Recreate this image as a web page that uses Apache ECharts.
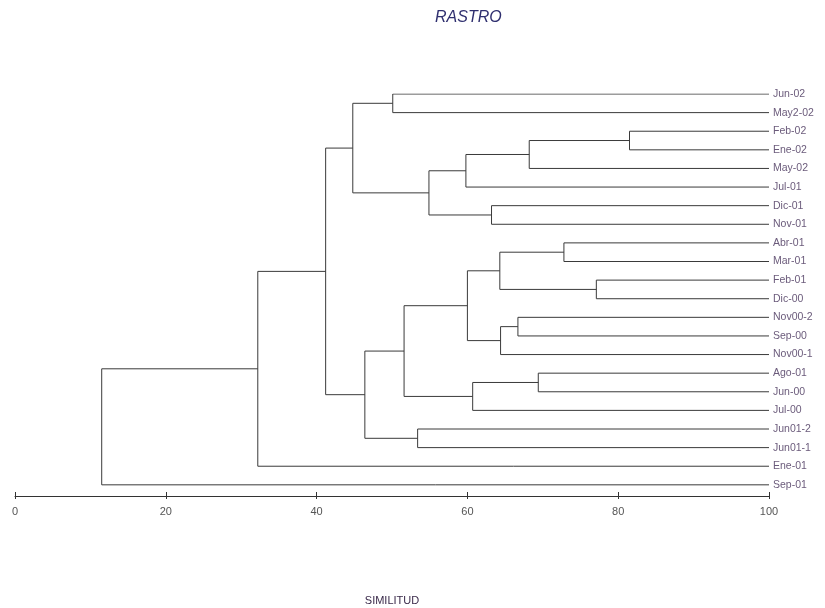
<!DOCTYPE html>
<html>
<head>
<meta charset="utf-8">
<script src="https://cdn.jsdelivr.net/npm/echarts@6/dist/echarts.min.js"></script>
<style>html,body{margin:0;padding:0;background:#fff}#c{width:825px;height:608px}</style>
</head>
<body>
<div id="c"></div>
<script>
// Leaves (top to bottom)
const leaves = ['Jun-02','May2-02','Feb-02','Ene-02','May-02','Jul-01','Dic-01','Nov-01',
  'Abr-01','Mar-01','Feb-01','Dic-00','Nov00-2','Sep-00','Nov00-1','Ago-01','Jun-00','Jul-00',
  'Jun01-2','Jun01-1','Ene-01','Sep-01'];
// Merges: [childA, childB, similitud]; new node ids start at leaves.length
const mergeA = [0, 2, 23, 24, 6, 25, 22, 8, 10, 29, 12, 32, 31, 15, 35, 34, 18, 37, 28, 40, 41];
const mergeB = [1, 3, 4, 5, 7, 26, 27, 9, 11, 30, 13, 14, 33, 16, 17, 36, 19, 38, 39, 20, 21];
const mergeSim = [50.1, 81.5, 68.2, 59.8, 63.2, 54.9, 44.8, 72.8, 77.1, 64.3, 66.7, 64.4, 60.0, 69.4, 60.7, 51.6, 53.4, 46.4, 41.2, 32.2, 11.5];
const xTicks = [0, 20, 40, 60, 80, 100];

const nodeX = leaves.map(() => 100);
const nodeY = leaves.map((_, i) => i);
const links = [];
for (let k = 0; k < mergeA.length; k++) {
  const a = mergeA[k], b = mergeB[k], s = mergeSim[k];
  links.push({coords: [[nodeX[a], nodeY[a]], [s, nodeY[a]], [s, nodeY[b]], [nodeX[b], nodeY[b]]]});
  nodeX.push(s);
  nodeY.push((nodeY[a] + nodeY[b]) / 2);
}

const GRID_TOP = 94, GRID_BOTTOM = 112, H = 608;

const chart = echarts.init(document.getElementById('c'), null, {renderer: 'canvas'});
const font = 'Arial, "Liberation Sans", sans-serif';
chart.setOption({
  animation: false,
  backgroundColor: '#fff',
  title: {
    text: 'RASTRO', left: 430, top: 5,
    textStyle: {fontSize: 16, fontStyle: 'italic', fontWeight: 'normal', color: '#2f2f6f', fontFamily: font}
  },
  grid: {left: 15, right: 56, top: GRID_TOP, bottom: GRID_BOTTOM, containLabel: false, outerBoundsMode: 'none'},
  xAxis: [{
    type: 'value', min: 0, max: 100, interval: 20, position: 'bottom',
    name: 'SIMILITUD', nameLocation: 'middle', nameGap: 99,
    nameTextStyle: {fontSize: 11, color: '#3a2a4a', fontFamily: font},
    axisLine: {show: true, onZero: false, lineStyle: {color: '#333', width: 1}},
    axisTick: {show: true, inside: false, length: 3, lineStyle: {color: '#333'}},
    axisLabel: {margin: 10, fontSize: 11, color: '#555', fontFamily: font,
      formatter: v => xTicks.includes(v) ? String(v) : ''},
    splitLine: {show: false}
  }, {
    type: 'value', min: 0, max: 100, interval: 20, position: 'bottom',
    axisLine: {show: false, onZero: false},
    axisTick: {show: true, inside: true, length: 4, lineStyle: {color: '#333'}},
    axisLabel: {show: false},
    splitLine: {show: false}
  }],
  yAxis: {
    type: 'value', inverse: true, min: 0, max: 21.6, interval: 1, position: 'right',
    axisLine: {show: false, onZero: false}, axisTick: {show: false}, splitLine: {show: false},
    axisLabel: {margin: 4, fontSize: 10.5, color: '#6b5b7b', fontFamily: font,
      formatter: v => Number.isInteger(v) && leaves[v] ? leaves[v] : ''}
  },
  series: [{
    type: 'lines', coordinateSystem: 'cartesian2d', polyline: true,
    xAxisIndex: 0, yAxisIndex: 0,
    lineStyle: {color: '#3a3a3a', width: 1, opacity: 1},
    data: links
  }]
});
</script>
</body>
</html>
